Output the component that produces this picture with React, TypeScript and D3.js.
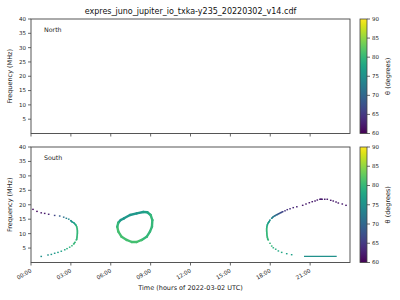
import React from "react";
import * as d3 from "d3";

const TITLE = "expres_juno_jupiter_io_txka-y235_20220302_v14.cdf";
const X_TICKS = [0, 3, 6, 9, 12, 15, 18, 21];
const X_TICK_LABELS = ["00:00", "03:00", "06:00", "09:00", "12:00", "15:00", "18:00", "21:00"];
const Y_TICKS = [5, 10, 15, 20, 25, 30, 35, 40];
const CBAR_TICKS = [60, 65, 70, 75, 80, 85, 90];
const PANEL_NAMES = ["North", "South"];

// [hour, MHz, theta]
const southArcEarly: number[][] = [
  [0.15, 18.4, 61], [0.45, 17.7, 61], [0.77, 17.2, 62], [1.03, 17.0, 62], [1.33, 16.7, 63],
  [1.78, 16.3, 66], [2.16, 16.1, 69], [2.46, 15.7, 71], [2.66, 15.3, 73], [2.84, 15.0, 74],
  [2.99, 14.5, 75], [3.11, 14.0, 76], [3.24, 13.7, 77], [3.33, 13.2, 78],
  [3.39, 12.9, 79], [3.44, 12.3, 80], [3.48, 11.6, 80], [3.49, 10.9, 80], [3.49, 10.2, 80],
  [3.48, 9.5, 80], [3.46, 8.8, 80], [3.44, 8.1, 80], [3.41, 7.8, 80],
  [3.31, 7.0, 80], [3.21, 6.4, 80], [3.08, 5.8, 80], [2.91, 5.3, 79], [2.71, 4.8, 79],
  [2.54, 4.4, 78], [2.28, 3.9, 77], [2.03, 3.5, 77], [1.78, 3.2, 76], [1.53, 2.8, 76],
  [1.28, 2.6, 75], [0.77, 2.1, 75],
];

const southLoop: number[][] = [
  [6.57, 13.8, 77], [6.75, 14.7, 76], [7.0, 15.3, 76], [7.45, 16.45, 76], [7.95, 17.0, 76],
  [8.45, 17.5, 77], [8.75, 17.4, 78], [9.0, 16.45, 80], [9.13, 14.7, 80], [9.1, 12.4, 80],
  [8.95, 10.7, 80], [8.7, 8.9, 80], [8.33, 7.8, 81], [7.95, 7.1, 81], [7.58, 7.1, 81],
  [7.2, 7.8, 81], [6.82, 8.9, 81], [6.57, 10.7, 81], [6.49, 12.4, 80],
];

const southArcLate: number[][] = [
  [23.70, 19.8, 62], [23.42, 20.26, 62], [23.12, 20.6, 62], [22.95, 20.95, 62], [22.74, 21.3, 62],
  [22.55, 21.54, 62], [22.29, 21.9, 62], [22.1, 21.9, 62], [21.9, 21.9, 62], [21.74, 21.9, 62],
  [21.54, 21.64, 62], [21.37, 21.3, 62], [21.16, 21.06, 62], [20.94, 20.7, 62], [20.69, 20.26, 62],
  [20.44, 19.8, 62], [20.0, 19.3, 63], [19.73, 19.0, 63], [19.49, 18.6, 64], [19.28, 18.3, 64],
  [19.11, 17.9, 65], [18.94, 17.6, 66], [18.79, 17.25, 67], [18.64, 16.9, 68], [18.49, 16.55, 70],
  [18.36, 16.2, 71], [18.23, 15.86, 72], [18.11, 15.3, 74], [17.98, 14.7, 75], [17.91, 14.1, 76],
  [17.83, 13.6, 77], [17.78, 13.0, 78], [17.74, 12.3, 79], [17.73, 11.6, 80], [17.73, 10.9, 80],
  [17.74, 10.2, 80], [17.75, 9.5, 80], [17.78, 8.8, 80], [17.81, 8.1, 80], [17.85, 7.8, 80],
  [17.98, 6.65, 80], [18.11, 5.7, 80], [18.23, 5.1, 79], [18.41, 4.6, 79], [18.61, 4.0, 78],
  [18.86, 3.5, 78], [19.24, 3.05, 77], [19.61, 2.7, 77],
];

const southLine: number[][] = [[20.54, 2.15, 75], [23.0, 2.15, 75]];

const FONT = "DejaVu Sans, sans-serif";
const AX_LEFT = 31;
const AX_RIGHT = 350;
const PANELS = [
  { top: 19, bottom: 133.5 },
  { top: 147, bottom: 262.5 },
];
const CB_X = 360;
const CB_W = 7;

const color = d3.scaleSequential(d3.interpolateViridis).domain([60, 90]);
const x = d3.scaleLinear().domain([0, 24]).range([AX_LEFT, AX_RIGHT]);

function Scatter({ pts, y, gap }: { pts: number[][]; y: d3.ScaleLinear<number, number>; gap: number }) {
  const segs: React.ReactNode[] = [];
  for (let i = 1; i < pts.length; i++) {
    const a = pts[i - 1], b = pts[i];
    const dx = x(a[0]) - x(b[0]), dy = y(a[1]) - y(b[1]);
    if (Math.hypot(dx, dy) < gap) {
      segs.push(
        <line key={"s" + i} x1={x(a[0])} y1={y(a[1])} x2={x(b[0])} y2={y(b[1])}
          stroke={color((a[2] + b[2]) / 2)} strokeWidth={1.5} />
      );
    }
  }
  return (
    <g>
      {segs}
      {pts.map((p, i) => (
        <rect key={i} x={x(p[0]) - 0.8} y={y(p[1]) - 0.7} width={1.6} height={1.4} fill={color(p[2])} />
      ))}
    </g>
  );
}

function Loop({ pts, y }: { pts: number[][]; y: d3.ScaleLinear<number, number> }) {
  return (
    <g>
      {pts.map((a, i) => {
        const b = pts[(i + 1) % pts.length];
        return (
          <line key={i} x1={x(a[0])} y1={y(a[1])} x2={x(b[0])} y2={y(b[1])}
            stroke={color(a[2])} strokeWidth={2.4} strokeLinecap="round" />
        );
      })}
    </g>
  );
}

export default function App() {
  const stops = d3.range(0, 1.0001, 0.05);
  return (
    <svg width={400} height={300} style={{ position: "absolute", left: 0, top: 0, background: "#fff" }}
      fontFamily={FONT}>
      <defs>
        <linearGradient id="vir" x1="0" y1="1" x2="0" y2="0">
          {stops.map((s) => (
            <stop key={s} offset={s} stopColor={d3.interpolateViridis(s)} />
          ))}
        </linearGradient>
      </defs>
      <rect width={400} height={300} fill="#fff" />
      <text x={(AX_LEFT + AX_RIGHT) / 2} y={14} textAnchor="middle" fontSize={8} fill="#111">{TITLE}</text>
      {PANELS.map((pn, pi) => {
        const y = d3.scaleLinear().domain([0, 40]).range([pn.bottom, pn.top]);
        const cb = d3.scaleLinear().domain([60, 90]).range([pn.bottom, pn.top]);
        const mid = (pn.top + pn.bottom) / 2;
        return (
          <g key={pi}>
            {pi === 1 && (
              <g>
                <Scatter pts={southArcEarly} y={y} gap={2.3} />
                <Loop pts={southLoop} y={y} />
                <Scatter pts={southArcLate} y={y} gap={2.3} />
                <line x1={x(southLine[0][0])} x2={x(southLine[1][0])} y1={y(southLine[0][1])} y2={y(southLine[1][1])}
                  stroke={color(southLine[0][2])} strokeWidth={1.2} />
              </g>
            )}
            <rect x={AX_LEFT} y={pn.top} width={AX_RIGHT - AX_LEFT} height={pn.bottom - pn.top}
              fill="none" stroke="#444" strokeWidth={0.9} />
            <text x={44} y={pn.top + 12.5} fontSize={6.3} fill="#222">{PANEL_NAMES[pi]}</text>
            {Y_TICKS.map((t) => (
              <g key={t}>
                <line x1={AX_LEFT - 3} x2={AX_LEFT} y1={y(t)} y2={y(t)} stroke="#444" strokeWidth={0.8} />
                <text x={AX_LEFT - 5} y={y(t)} dy="0.35em" textAnchor="end" fontSize={5.5} fill="#222">{t}</text>
              </g>
            ))}
            {X_TICKS.map((t, i) => (
              <g key={t}>
                <line x1={x(t)} x2={x(t)} y1={pn.bottom} y2={pn.bottom + 3} stroke="#444" strokeWidth={0.8} />
                {pi === 1 && (
                  <text transform={`translate(${x(t) - 1},${pn.bottom + 6}) rotate(-30)`} textAnchor="end"
                    dy="0.7em" fontSize={5.5} fill="#222">{X_TICK_LABELS[i]}</text>
                )}
              </g>
            ))}
            <text transform={`translate(12,${mid}) rotate(-90)`} textAnchor="middle" fontSize={6.5} fill="#222">
              Frequency (MHz)
            </text>
            <rect x={CB_X} y={pn.top} width={CB_W} height={pn.bottom - pn.top} fill="url(#vir)"
              stroke="#444" strokeWidth={0.8} />
            {CBAR_TICKS.map((t) => (
              <g key={t}>
                <line x1={CB_X + CB_W} x2={CB_X + CB_W + 3} y1={cb(t)} y2={cb(t)} stroke="#444" strokeWidth={0.8} />
                <text x={CB_X + CB_W + 5} y={cb(t)} dy="0.35em" fontSize={5.5} fill="#222">{t}</text>
              </g>
            ))}
            <text transform={`translate(390,${mid}) rotate(-90)`} textAnchor="middle" fontSize={6.5} fill="#222">
              θ (degrees)
            </text>
          </g>
        );
      })}
      <text x={(AX_LEFT + AX_RIGHT) / 2} y={289.5} textAnchor="middle" fontSize={6.5} fill="#222">
        Time (hours of 2022-03-02 UTC)
      </text>
    </svg>
  );
}
